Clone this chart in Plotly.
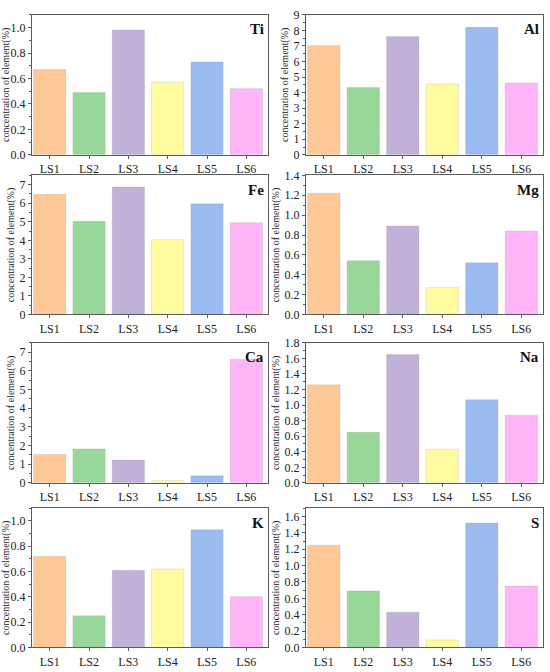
import plotly.graph_objects as go

samples = ['LS1', 'LS2', 'LS3', 'LS4', 'LS5', 'LS6']
bar_colors = ['#FFC897', '#98D69A', '#C1B1D8', '#FFFCA0', '#9BBBF0', '#FFB5F8']

ti = [0.67, 0.49, 0.98, 0.57, 0.73, 0.52]
al = [7.02, 4.33, 7.60, 4.55, 8.20, 4.62]
fe = [6.48, 5.03, 6.87, 4.03, 5.97, 4.95]
mg = [1.22, 0.54, 0.89, 0.27, 0.52, 0.84]
ca = [1.52, 1.82, 1.22, 0.13, 0.38, 6.62]
na = [1.26, 0.65, 1.65, 0.43, 1.07, 0.87]
k = [0.72, 0.25, 0.61, 0.62, 0.93, 0.40]
s = [1.25, 0.69, 0.43, 0.09, 1.52, 0.75]

elements = ['Ti', 'Al', 'Fe', 'Mg', 'Ca', 'Na', 'K', 'S']
values = [ti, al, fe, mg, ca, na, k, s]
y_max = [1.1, 9, 7.5, 1.4, 7.5, 1.8, 1.1, 1.7]
y_step = [0.2, 1, 1, 0.2, 1, 0.2, 0.2, 0.2]

W, H = 550, 672
col_px = [(32, 268), (306, 543)]
row_px = [(8, 151), (172, 314), (343, 486), (512, 654)]

font = 'Liberation Serif, Times New Roman, serif'
axcol = '#5a5a5a'

fig = go.Figure()
layout = {}
annotations = []

for i, (el, vals) in enumerate(zip(elements, values)):
    r, c = divmod(i, 2)
    n = i + 1
    xa = 'x' if n == 1 else 'x%d' % n
    ya = 'y' if n == 1 else 'y%d' % n
    fig.add_trace(go.Bar(
        x=samples, y=vals, xaxis=xa, yaxis=ya,
        marker=dict(color=bar_colors, line=dict(color='rgba(150,150,150,0.35)', width=0.6)),
        showlegend=False,
    ))
    x0, x1 = col_px[c]
    t, b = row_px[r]
    dec = 1 if y_step[i] < 1 else 0
    layout['xaxis' if n == 1 else 'xaxis%d' % n] = dict(
        domain=[x0 / W, x1 / W], anchor=ya, range=[-0.45, 5.55],
        showline=True, linecolor=axcol, linewidth=1, mirror=True,
        ticks='outside', ticklen=3, tickcolor=axcol,
        tickfont=dict(family=font, size=12, color='#222'),
        showgrid=False, zeroline=False, fixedrange=True,
    )
    layout['yaxis' if n == 1 else 'yaxis%d' % n] = dict(
        domain=[1 - b / H, 1 - t / H], anchor=xa, range=[0, y_max[i]],
        showline=True, linecolor=axcol, linewidth=1, mirror=True,
        ticks='outside', ticklen=3, tickcolor=axcol, dtick=y_step[i], tick0=0,
        tickformat='.%df' % dec,
        minor=dict(ticks='outside', ticklen=2, tickcolor=axcol, dtick=y_step[i] / 2),
        tickfont=dict(family=font, size=12, color='#222'),
        title=dict(text='concentration of element(%)', standoff=3,
                   font=dict(family=font, size=10, color='#222')),
        showgrid=False, zeroline=False, fixedrange=True,
    )
    annotations.append(dict(
        text='<b>%s</b>' % el, xref=xa + ' domain', yref=ya + ' domain',
        x=0.99, y=0.97, xanchor='right', yanchor='top', showarrow=False,
        font=dict(family=font, size=15, color='#111'),
    ))

fig.update_layout(
    width=W, height=H, margin=dict(l=0, r=0, t=0, b=0),
    paper_bgcolor='white', plot_bgcolor='white',
    bargap=0.18, annotations=annotations, **layout,
)

fig.write_html('out.html', config={'displayModeBar': False},
               post_script="document.body.style.margin='0';")
